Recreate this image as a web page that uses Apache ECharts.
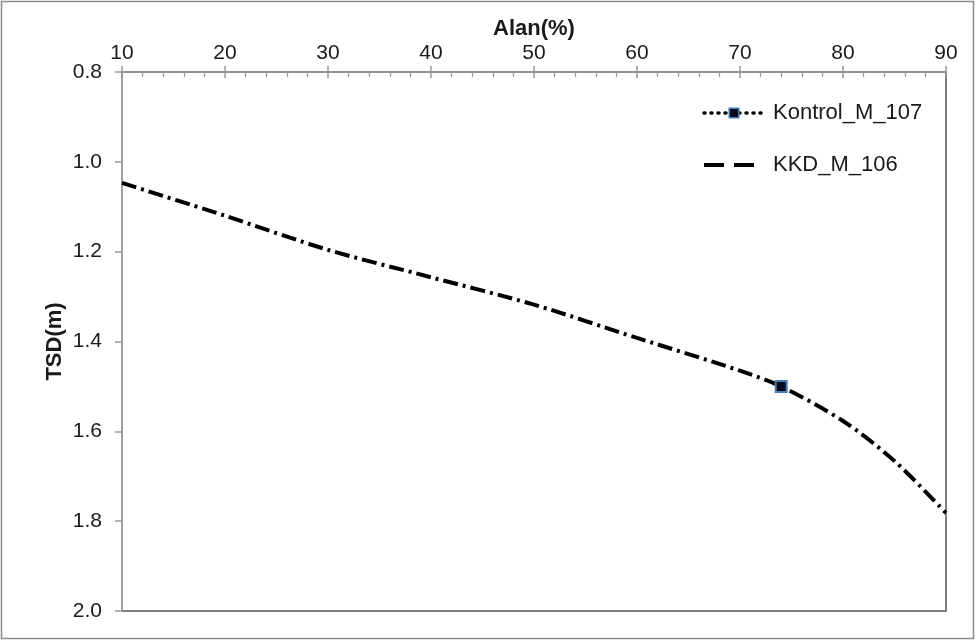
<!DOCTYPE html>
<html>
<head>
<meta charset="utf-8">
<script src="https://cdn.jsdelivr.net/npm/echarts@6/dist/echarts.min.js"></script>
<style>
  html, body { margin: 0; padding: 0; background: #fff; }
  #chart { width: 976px; height: 643px; }
</style>
</head>
<body>
<div id="chart"></div>
<script>
// Alan (%) vs TSD (m), depth axis increasing downward
const alanValues = [10, 20, 30, 40, 50, 60, 70, 74, 80, 85, 90];
const kkdTsd = [1.047, 1.12, 1.196, 1.257, 1.318, 1.392, 1.465, 1.50, 1.577, 1.666, 1.782];
const kontrolAlan = [74];
const kontrolTsd = [1.50];
const seriesNames = ['Kontrol_M_107', 'KKD_M_106'];

const font = 'Liberation Sans, Arial, sans-serif';
const textColor = '#1a1a1a';

const chart = echarts.init(document.getElementById('chart'), null, { renderer: 'canvas' });

const baseX = {
  type: 'value',
  position: 'top',
  min: 10,
  max: 90,
  interval: 10
};

chart.setOption({
  animation: false,
  backgroundColor: '#fff',
  graphic: [{
    type: 'rect',
    shape: { x: 1.5, y: 1.5, width: 972, height: 637 },
    style: { fill: 'none', stroke: '#8c8c8c', lineWidth: 1.5 },
    silent: true
  }],
  grid: {
    left: 122, right: 30, top: 72, bottom: 32,
    show: true,
    borderColor: '#555',
    borderWidth: 1.5,
    backgroundColor: '#fff'
  },
  legend: {
    orient: 'vertical',
    left: 697,
    top: 97,
    itemWidth: 60,
    itemHeight: 12,
    itemGap: 30,
    textStyle: { fontFamily: font, fontSize: 22, color: textColor, padding: [0, 0, 0, 4] },
    data: [
      {
        name: seriesNames[0],
        lineStyle: { type: [1, 6], width: 3.5, color: '#000', cap: 'round' },
        itemStyle: { color: '#0a0a1a', borderColor: '#4a7ebb', borderWidth: 1.5 }
      },
      {
        name: seriesNames[1],
        lineStyle: { type: [20, 10], width: 4, color: '#000' },
        itemStyle: { opacity: 0 }
      }
    ]
  },
  xAxis: [
    Object.assign({}, baseX, {
      name: 'Alan(%)',
      nameLocation: 'middle',
      nameGap: 32,
      nameMoveOverlap: false,
      nameTextStyle: { fontFamily: font, fontSize: 22, fontWeight: 'bold', color: textColor },
      axisLine: { show: true, lineStyle: { color: '#999', width: 1.5 } },
      axisTick: { show: true, inside: true, length: 6, lineStyle: { color: '#999', width: 1.5 } },
      minorTick: { show: true, splitNumber: 5, length: 5, lineStyle: { color: '#999', width: 1.2 } },
      axisLabel: { fontFamily: font, fontSize: 21, color: textColor, margin: 8 },
      splitLine: { show: false }
    }),
    // outward half of the crossing major ticks
    Object.assign({}, baseX, {
      axisLine: { show: false },
      axisTick: { show: true, inside: false, length: 6, lineStyle: { color: '#999', width: 1.5 } },
      axisLabel: { show: false },
      splitLine: { show: false }
    })
  ],
  yAxis: {
    type: 'value',
    inverse: true,
    min: 0.8,
    max: 2.0,
    interval: 0.2,
    name: 'TSD(m)',
    nameLocation: 'middle',
    nameGap: 56,
    nameRotate: 90,
    nameMoveOverlap: false,
    nameTextStyle: { fontFamily: font, fontSize: 22, fontWeight: 'bold', color: textColor },
    axisLine: { show: true, lineStyle: { color: '#aaa', width: 1.5 } },
    axisTick: { show: true, inside: false, length: 7, lineStyle: { color: '#999', width: 1.5 } },
    axisLabel: {
      fontFamily: font, fontSize: 21, color: textColor, margin: 20,
      formatter: v => v.toFixed(1)
    },
    splitLine: { show: false }
  },
  series: [
    {
      name: seriesNames[1],
      type: 'line',
      xAxisIndex: 0,
      smooth: 0.3,
      symbol: 'none',
      data: alanValues.map((x, i) => [x, kkdTsd[i]]),
      lineStyle: { color: '#000', width: 4, type: [15, 5, 3, 5] },
      itemStyle: { color: '#000' },
      z: 2
    },
    {
      name: seriesNames[0],
      type: 'line',
      xAxisIndex: 0,
      symbol: 'rect',
      symbolSize: 11,
      data: kontrolAlan.map((x, i) => [x, kontrolTsd[i]]),
      lineStyle: { color: '#000', width: 3, type: 'dotted' },
      itemStyle: { color: '#0a0a1a', borderColor: '#4a7ebb', borderWidth: 2 },
      z: 3
    }
  ]
});
</script>
</body>
</html>
